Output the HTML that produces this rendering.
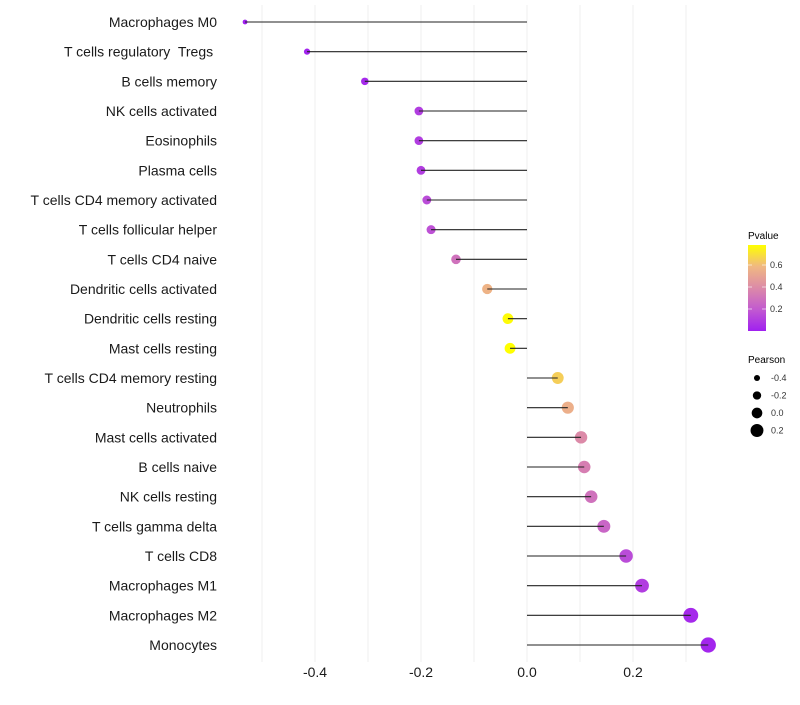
<!DOCTYPE html>
<html><head><meta charset="utf-8"><style>
body{margin:0;background:#fff;width:800px;height:700px;overflow:hidden}
svg{font-family:"Liberation Sans",sans-serif}
text{white-space:pre}
</style></head><body>
<svg id="chart" width="800" height="700">
<defs><linearGradient id="pg" x1="0" y1="1" x2="0" y2="0">
<stop offset="0" stop-color="#a020f0"/><stop offset="0.25" stop-color="#c25ad0"/><stop offset="0.5" stop-color="#dc8aa8"/><stop offset="0.75" stop-color="#f0b882"/><stop offset="1" stop-color="#ffff00"/></linearGradient></defs>
<g id="grid"></g>
<g id="pts"></g>
<g id="marks"></g>
<g id="labels"></g>
<g id="xt"></g>
<g>
<text x="748" y="239" font-size="10">Pvalue</text>
<rect x="748" y="245" width="18" height="86" fill="url(#pg)"/>
<g id="cbt"></g>
</g>
<g id="sleg">
<text x="748" y="363" font-size="10">Pearson</text>
</g>
</svg>
<script>
const categories=["Macrophages M0","T cells regulatory  Tregs ","B cells memory","NK cells activated","Eosinophils","Plasma cells","T cells CD4 memory activated","T cells follicular helper","T cells CD4 naive","Dendritic cells activated","Dendritic cells resting","Mast cells resting","T cells CD4 memory resting","Neutrophils","Mast cells activated","B cells naive","NK cells resting","T cells gamma delta","T cells CD8","Macrophages M1","Macrophages M2","Monocytes"];
const pearson=[-0.532,-0.415,-0.306,-0.204,-0.204,-0.2,-0.189,-0.181,-0.134,-0.075,-0.036,-0.032,0.058,0.077,0.102,0.108,0.121,0.145,0.187,0.217,0.309,0.342];
const pvalues=[0.0,0.01,0.03,0.1,0.1,0.1,0.15,0.17,0.3,0.58,0.78,0.79,0.66,0.56,0.4,0.35,0.3,0.25,0.15,0.1,0.03,0.02];
const xTicks=[-0.4,-0.2,0.0,0.2];
const xTickLabels=["-0.4","-0.2","0.0","0.2"];
const cbTicks=[0.2,0.4,0.6];
const sizeLegend=[-0.4,-0.2,0.0,0.2];
const NS="http://www.w3.org/2000/svg";
const X=v=>527+v*530;
const Y=i=>22+i*((645-22)/(categories.length-1));
const R=v=>Math.max(1.5,5.6+6*v);
const stops=[[0,[160,32,240]],[0.2,[194,90,208]],[0.4,[220,138,168]],[0.6,[240,184,130]],[0.79,[255,255,0]]];
function col(p){for(let i=1;i<stops.length;i++){if(p<=stops[i][0]||i==stops.length-1){const a=stops[i-1],b=stops[i];let t=(p-a[0])/(b[0]-a[0]);t=Math.max(0,Math.min(1,t));return "rgb("+a[1].map((c,k)=>Math.round(c+(b[1][k]-c)*t)).join(",")+")";}}}
function mk(tag,at,parent){const e=document.createElementNS(NS,tag);for(const k in at)e.setAttribute(k,at[k]);parent.appendChild(e);return e;}
const grid=document.getElementById('grid');
for(let v=-0.5;v<=0.35;v+=0.1){const g=mk('line',{x1:X(v),x2:X(v),y1:5,y2:662,stroke:'#efefef','stroke-width':1},grid);

}
const marks=document.getElementById('marks'),pts=document.getElementById('pts'),labels=document.getElementById('labels');
categories.forEach((c,i)=>{
const p=mk('circle',{cx:X(pearson[i]),cy:Y(i),r:R(pearson[i]),fill:col(pvalues[i])},pts);


const l=mk('line',{x1:X(0),x2:X(pearson[i]),y1:Y(i),y2:Y(i),stroke:'#222','stroke-width':1.1},marks);


const t=mk('text',{x:217,y:Y(i)+5,'text-anchor':'end','font-size':14,fill:'#1a1a1a'},labels);t.textContent=c;


});
const xt=document.getElementById('xt');
xTicks.forEach((v,i)=>{const t=mk('text',{x:X(v),y:677,'text-anchor':'middle','font-size':14,fill:'#1a1a1a'},xt);t.textContent=xTickLabels[i];

});
const cbt=document.getElementById('cbt');
cbTicks.forEach(v=>{const y=331-v*110;
const l=mk('line',{x1:748,x2:752,y1:y,y2:y,stroke:'#fff','stroke-opacity':0.6},cbt);


const l2=mk('line',{x1:762,x2:766,y1:y,y2:y,stroke:'#fff','stroke-opacity':0.6},cbt);


const t=mk('text',{x:770,y:y+3,'font-size':9,fill:'#333'},cbt);t.textContent=v.toFixed(1);

});
const sleg=document.getElementById('sleg');
sizeLegend.forEach((v,i)=>{const y=378+i*17.5;
const c=mk('circle',{cx:757,cy:y,r:R(v)*0.95,fill:'#000'},sleg);


const t=mk('text',{x:771,y:y+3,'font-size':9,fill:'#333'},sleg);t.textContent=v.toFixed(1);

});
</script>
</body></html>
